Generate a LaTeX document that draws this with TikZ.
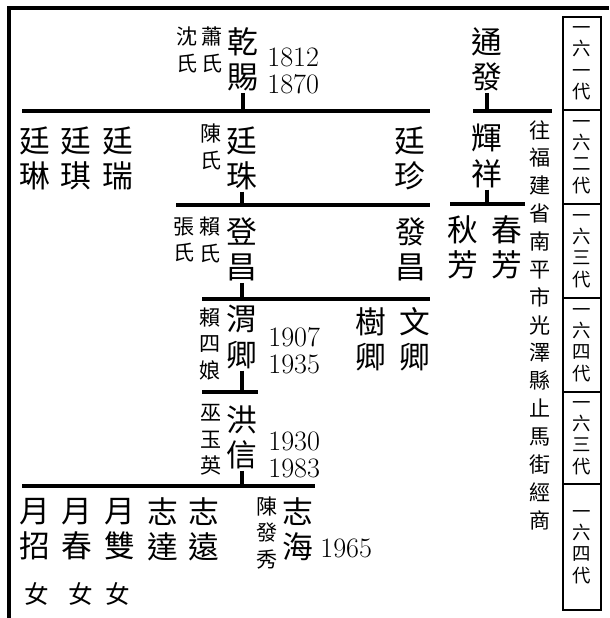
\documentclass[tikz,border=0pt]{standalone}
\usepackage{fontspec}
\newfontfamily\cjk{Noto Sans CJK TC}
\usetikzlibrary{calc}

\begin{document}
\begin{tikzpicture}[x=0.02cm,y=-0.02cm,line cap=butt,
		big/.style={font=\cjk\fontsize{17.5}{20}\selectfont,align=center,inner sep=1pt},
		wife/.style={font=\cjk\fontsize{12}{15}\selectfont,align=center,inner sep=1pt},
		note/.style={font=\cjk\fontsize{12}{15.85}\selectfont,align=center,inner sep=1pt},
		girl/.style={font=\cjk\fontsize{14}{15}\selectfont,inner sep=1pt},
		year/.style={font=\fontsize{16}{15.4}\selectfont,align=left,anchor=west,inner sep=0pt},
		gen/.style={font=\cjk\fontsize{10.5}{12.2}\selectfont,align=center,inner sep=0pt},
		bar/.style={line width=2.2pt},
		frame/.style={line width=2pt},
		genbox/.style={line width=1.1pt}]
	
	\useasboundingbox (0,0) rectangle (609,618);
	
	% ===== 外框 =====
	\draw[frame] (9,618) -- (9,8) -- (609,8);
	
	% ===== 右側世代欄 =====
	\foreach \i/\top/\bot/\txt in {1/17/110/一\\六\\一\\代, 2/110/204/一\\六\\二\\代,
		3/204/298/一\\六\\三\\代, 4/298/392/一\\六\\四\\代,
		5/392/484/一\\六\\三\\代, 6/484/610/一\\六\\四\\代}{
		\draw[genbox] (563,\top) rectangle (601,\bot);
		\node[gen] (gen\i) at ($(563,\top)!0.5!(601,\bot)$) {\txt};
	}
	
	% ---- 第一代 ----
	\node[wife] (shen) at (187,50) {沈\\氏};
	\node[wife] (xiao) at (212,50) {蕭\\氏};
	\node[big] (qianci) at (243,59) {乾\\賜};
	\node[year] (qianciyr) at (267,71) {1812\\1870};
	\node[big] (tongfa) at (487,59) {通\\發};
	
	\coordinate (b1l) at (22,111);  \coordinate (b1r) at (430,111);
	\coordinate (b1bl) at (473,111); \coordinate (b1br) at (552,111);
	\draw[bar] (b1l) -- (b1r);
	\draw[bar] (b1bl) -- (b1br);
	\draw[bar] (qianci.south) -- (qianci.south |- b1l);
	\draw[bar] (tongfa.south) -- (tongfa.south |- b1bl);
	
	% ---- 第二代 ----
	\node[big] (tinglin) at (35,158) {廷\\琳};
	\node[big] (tingqi) at (76,158) {廷\\琪};
	\node[big] (tingrui) at (118,158) {廷\\瑞};
	\node[wife] (chen) at (211,147) {陳\\氏};
	\node[big] (tingzhu) at (242,158) {廷\\珠};
	\node[big] (tingzhen) at (410,158) {廷\\珍};
	\node[big] (huixiang) at (487,156) {輝\\祥};
	\node[note] (jingshang) at (540,325)
	{往\\福\\建\\省\\南\\平\\市\\光\\澤\\縣\\止\\馬\\街\\經\\商};
	
	\coordinate (b2l) at (176,205);  \coordinate (b2r) at (430,205);
	\coordinate (b2bl) at (450,204); \coordinate (b2br) at (525,204);
	\draw[bar] (b2l) -- (b2r);
	\draw[bar] (b2bl) -- (b2br);
	\draw[bar] (tingzhu.south) -- (tingzhu.south |- b2l);
	\draw[bar] (huixiang.south) -- (huixiang.south |- b2bl);
	
	% ---- 第三代 ----
	\node[wife] (zhang) at (184,240) {張\\氏};
	\node[wife] (lai) at (210,240) {賴\\氏};
	\node[big] (dengchang) at (242,249) {登\\昌};
	\node[big] (fachang) at (411,249) {發\\昌};
	\node[big] (qiufang) at (463,247) {秋\\芳};
	\node[big] (chunfang) at (507,247) {春\\芳};
	
	\coordinate (b3l) at (202,299); \coordinate (b3r) at (430,299);
	\draw[bar] (b3l) -- (b3r);
	\draw[bar] (dengchang.south) -- (dengchang.south |- b3l);
	
	% ---- 第四代 ----
	\node[wife] (laisiniang) at (210,344) {賴\\四\\娘};
	\node[big] (weiqing) at (242,337) {渭\\卿};
	\node[year] (weiqingyr) at (268,351) {1907\\1935};
	\node[big] (shuqing) at (371,339) {樹\\卿};
	\node[big] (wenqing) at (415,339) {文\\卿};
	
	\coordinate (b4l) at (202,392); \coordinate (b4r) at (258,392);
	\draw[bar] (b4l) -- (b4r);
	\draw[bar] (weiqing.south) -- (weiqing.south |- b4l);
	
	% ---- 第五代 ----
	\node[wife] (wuyuying) at (211,440) {巫\\玉\\英};
	\node[big] (hongxin) at (242,437) {洪\\信};
	\node[year] (hongxinyr) at (268,455) {1930\\1983};
	
	\coordinate (b5l) at (22,486); \coordinate (b5r) at (315,486);
	\draw[bar] (b5l) -- (b5r);
	\draw[bar] (hongxin.south) -- (hongxin.south |- b5l);
	
	% ---- 第六代 ----
	\node[big] (yuezhao) at (35,529) {月\\招};
	\node[big] (yuechun) at (77,529) {月\\春};
	\node[big] (yueshuang) at (120,529) {月\\雙};
	\node[big] (zhida) at (163,529) {志\\達};
	\node[big] (zhiyuan) at (204,529) {志\\遠};
	\node[wife] (chenfaxiu) at (267,533) {陳\\發\\秀};
	\node[big] (zhihai) at (298,529) {志\\海};
	\node[year] (zhihaiyr) at (320,548) {1965};
	
	\node[girl] (nu1) at (37,594) {女};
	\node[girl] (nu2) at (81,594) {女};
	\node[girl] (nu3) at (118,594) {女};
	
\end{tikzpicture}
\end{document}
